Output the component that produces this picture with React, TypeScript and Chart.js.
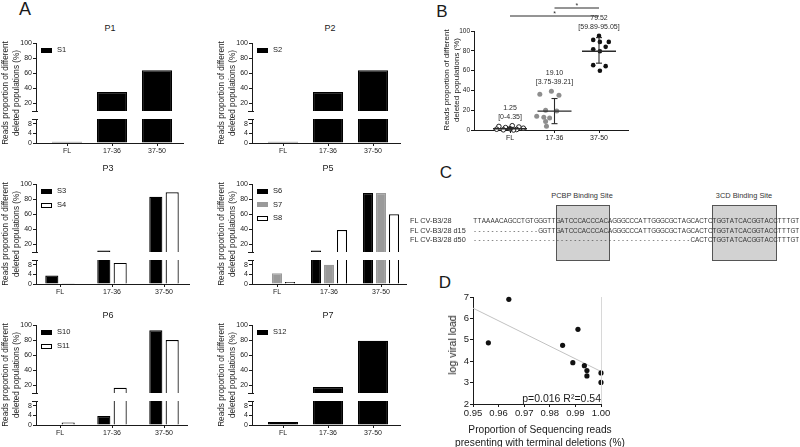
import React, { useEffect, useRef } from "react";
import { Chart, registerables } from "chart.js";

Chart.register(...registerables);

const FONT = "'Liberation Sans', Arial, Helvetica, sans-serif";
Chart.defaults.font.family = FONT;
Chart.defaults.color = "#222";

// ---------------- DATA ----------------
const CATEGORIES = ["FL", "17-36", "37-50"];

// Panel A: reads proportion (%) of deleted populations, per sample
const S1 = [0.5, 35, 64];
const S2 = [0.5, 35, 64];
const S3 = [3.5, 12, 83];
const S4 = [0.3, 8.8, 89];
const S6 = [0, 12, 88];
const S7 = [4.5, 8, 88];
const S8 = [0.8, 39, 60];
const S10 = [0, 3.7, 93];
const S11 = [1, 17, 80];
const S12 = [1.3, 18, 79];

const UPPER_TICKS = [20, 40, 60, 80, 100];
const LOWER_TICKS = [0, 4, 8];

// Panel B: individual samples per class (value, horizontal jitter in category units)
const B_FL = [4.35, 3.6, 3.0, 2.4, 1.8, 1.25, 0.8, 0.5, 0.2, 0];
const B_FL_JITTER = [0.05, -0.25, 0.2, -0.1, 0.3, 0.0, -0.3, 0.15, -0.15, 0.08];
const B_1736 = [39.21, 36, 35, 20, 19.1, 14, 13, 12, 8.5, 3.75];
const B_1736_JITTER = [-0.07, -0.33, 0.1, -0.2, 0.05, -0.4, -0.24, -0.11, -0.2, -0.18];
const B_3750 = [95.05, 91, 89, 89, 84, 81.5, 79.5, 65.5, 64.5, 59.89];
const B_3750_JITTER = [0, -0.13, 0.02, 0.22, 0.15, -0.13, 0.02, -0.13, 0.15, 0.02];
const B_MEDIAN = [1.25, 19.1, 79.52];
const B_ERR_LOW = [0.2, 6.4, 67.5];
const B_ERR_HIGH = [2.6, 31.8, 93.3];
const B_MEDIAN_LABELS = ["1.25", "19.10", "79.52"];
const B_RANGE_LABELS = ["[0-4.35]", "[3.75-39.21]", "[59.89-95.05]"];
const B_TICKS = [0, 20, 40, 60, 80, 100];

// Panel C: sequences
const SEQ_FL = "TTAAAACAGCCTGTGGGTTGATCCCACCCACAGGGCCCATTGGGCGCTAGCACTCTGGTATCACGGTACCTTTGT";
const SEQ_D15 = "---------------GGTTGATCCCACCCACAGGGCCCATTGGGCGCTAGCACTCTGGTATCACGGTACCTTTGT";
const SEQ_D50 = "--------------------------------------------------CACTCTGGTATCACGGTACCTTTGT";
const SEQ_LABELS = ["FL CV-B3/28", "FL CV-B3/28 d15", "FL CV-B3/28 d50"];

// Panel D
const D_X = [0.956, 0.964, 0.985, 0.991, 0.989, 0.9935, 0.9945, 0.9945, 1.0, 1.0];
const D_Y = [4.86, 6.89, 4.74, 5.49, 3.93, 3.79, 3.56, 3.31, 3.45, 3.01];
const D_FIT_X = [0.95, 1.0];
const D_FIT_Y = [6.48, 3.52];
const D_X_TICKS = [0.95, 0.96, 0.97, 0.98, 0.99, 1.0];
const D_Y_TICKS = [2, 3, 4, 5, 6, 7];

// ---------------- STYLE ----------------
const INK = "#1a1a1a";
const BLACK = "#000000";
const GRAY = "#9a9a9a";
const WHITE = "#ffffff";

type Series = { label: string; values: number[]; fill: string; stroke: string };
type Geo = {
  axisX: number; xEnd: number; c0: number; step: number; base: number;
  titleX: number; titleY: number; catPct: number; barPct: number; legendStep: number;
};

const PANELS: { title: string; series: Series[]; g: Geo }[] = [
  {
    title: "P1",
    series: [{ label: "S1", values: S1, fill: BLACK, stroke: BLACK }],
    g: { axisX: 36, xEnd: 183, c0: 67, step: 45, base: 43, titleX: 110, titleY: 28, catPct: 0.67, barPct: 1, legendStep: 14 },
  },
  {
    title: "P2",
    series: [{ label: "S2", values: S2, fill: BLACK, stroke: BLACK }],
    g: { axisX: 252, xEnd: 400, c0: 283, step: 45, base: 43, titleX: 330, titleY: 28, catPct: 0.67, barPct: 1, legendStep: 14 },
  },
  {
    title: "P3",
    series: [
      { label: "S3", values: S3, fill: BLACK, stroke: BLACK },
      { label: "S4", values: S4, fill: WHITE, stroke: BLACK },
    ],
    g: { axisX: 36, xEnd: 189, c0: 60, step: 52, base: 184, titleX: 108, titleY: 168, catPct: 0.63, barPct: 0.8, legendStep: 14 },
  },
  {
    title: "P5",
    series: [
      { label: "S6", values: S6, fill: BLACK, stroke: BLACK },
      { label: "S7", values: S7, fill: GRAY, stroke: GRAY },
      { label: "S8", values: S8, fill: WHITE, stroke: BLACK },
    ],
    g: { axisX: 252, xEnd: 406, c0: 277, step: 52, base: 184, titleX: 328, titleY: 168, catPct: 0.75, barPct: 0.78, legendStep: 13.5 },
  },
  {
    title: "P6",
    series: [
      { label: "S10", values: S10, fill: BLACK, stroke: BLACK },
      { label: "S11", values: S11, fill: WHITE, stroke: BLACK },
    ],
    g: { axisX: 36, xEnd: 187, c0: 60, step: 52, base: 325, titleX: 108, titleY: 315, catPct: 0.63, barPct: 0.8, legendStep: 14 },
  },
  {
    title: "P7",
    series: [{ label: "S12", values: S12, fill: BLACK, stroke: BLACK }],
    g: { axisX: 252, xEnd: 400, c0: 283, step: 45, base: 325, titleX: 328, titleY: 315, catPct: 0.67, barPct: 1, legendStep: 14 },
  },
];

// ---------------- HELPERS ----------------
function ChartBox(props: { left: number; top: number; width: number; height: number; make: () => any }) {
  const ref = useRef<HTMLCanvasElement | null>(null);
  useEffect(() => {
    if (!ref.current) return;
    const chart = new Chart(ref.current, props.make());
    return () => chart.destroy();
  }, []);
  return (
    <div style={{ position: "absolute", left: props.left, top: props.top, width: props.width, height: props.height }}>
      <canvas ref={ref} width={props.width} height={props.height} style={{ display: "block" }} />
    </div>
  );
}

function Label(props: { x: number; y: number; size: number; children: any; align?: "left" | "center" | "right"; color?: string }) {
  const a = props.align || "center";
  const tx = a === "center" ? "-50%" : a === "right" ? "-100%" : "0";
  return (
    <div
      style={{
        position: "absolute", left: props.x, top: props.y, transform: `translate(${tx}, -50%)`,
        fontSize: props.size, lineHeight: 1, whiteSpace: "nowrap", color: props.color || INK,
      }}
    >
      {props.children}
    </div>
  );
}

function VLabel(props: { x: number; y: number; size: number; lines: string[]; lh: number }) {
  return (
    <div
      style={{
        position: "absolute", left: props.x, top: props.y,
        transform: "translate(-50%, -50%) rotate(-90deg)",
        fontSize: props.size, lineHeight: `${props.lh}px`, textAlign: "center", whiteSpace: "nowrap", color: INK,
      }}
    >
      {props.lines.map((l) => (
        <div key={l}>{l}</div>
      ))}
    </div>
  );
}

const baseOpts = {
  responsive: false,
  maintainAspectRatio: false,
  animation: false as const,
  events: [] as any[],
  plugins: { legend: { display: false }, tooltip: { enabled: false }, title: { display: false } },
};

function tickAxis(min: number, max: number, ticks: number[], size: number, fit: (s: any) => void, label?: (v: number) => string) {
  return {
    type: "linear",
    min,
    max,
    offset: false,
    afterFit: fit,
    afterBuildTicks: (s: any) => {
      s.ticks = ticks.map((v) => ({ value: v }));
    },
    ticks: {
      font: { size, family: FONT },
      color: INK,
      padding: 1,
      autoSkip: false,
      maxRotation: 0,
      callback: label ? (v: any) => label(Number(v)) : (v: any) => String(v),
    },
    grid: { display: true, drawOnChartArea: false, drawTicks: true, tickLength: 3, color: INK, lineWidth: 1, offset: false },
    border: { display: true, color: INK, width: 1 },
  };
}

const breakMark = (where: "top" | "bottom") => ({
  id: "breakMark",
  afterDraw(chart: any) {
    const { ctx, chartArea } = chart;
    const y = Math.round(where === "top" ? chartArea.top : chartArea.bottom) + 0.5;
    ctx.save();
    ctx.strokeStyle = INK;
    ctx.lineWidth = 1;
    ctx.beginPath();
    ctx.moveTo(chartArea.left - 4, y);
    ctx.lineTo(chartArea.left + 2, y);
    ctx.stroke();
    ctx.restore();
  },
});

// ---------------- PANEL A ----------------
function BrokenBarPanel({ title, series, g }: { title: string; series: Series[]; g: Geo }) {
  const yW = 30;
  const pad = 6;
  const upperH = 68;
  const lowerTop = 76;
  const lowerH = 24;
  const xAxisH = 18;
  const left = g.axisX - yW;
  const width = g.xEnd - left + pad;
  const xMin = (g.axisX - g.c0) / g.step;
  const xMax = (g.xEnd - g.c0) / g.step;
  const bw = 1.2;

  const makeUpper = () => ({
    type: "bar",
    data: {
      datasets: series.map((s) => ({
        label: s.label,
        data: s.values.map((v, i) => ({ x: i, y: v > 10 ? v : null })),
        backgroundColor: s.fill,
        borderColor: s.stroke,
        borderWidth: { top: bw, left: bw, right: bw, bottom: 0 },
        borderSkipped: "start",
        categoryPercentage: g.catPct,
        barPercentage: g.barPct,
      })),
    },
    options: {
      ...baseOpts,
      layout: { padding: { top: pad, bottom: pad, left: 0, right: pad } },
      scales: {
        x: { type: "linear", min: xMin, max: xMax, offset: false, display: false },
        y: tickAxis(10, 100, UPPER_TICKS, 7, (s: any) => { s.width = yW; }),
      },
    },
    plugins: [breakMark("bottom")],
  });

  const makeLower = () => ({
    type: "bar",
    data: {
      datasets: series.map((s) => ({
        label: s.label,
        data: s.values.map((v, i) => ({ x: i, y: Math.min(v, 10) })),
        backgroundColor: s.fill,
        borderColor: s.stroke,
        borderWidth: (ctx: any) =>
          s.values[ctx.dataIndex] > 10
            ? { top: 0, left: bw, right: bw, bottom: 0 }
            : { top: bw, left: bw, right: bw, bottom: 0 },
        borderSkipped: "start",
        categoryPercentage: g.catPct,
        barPercentage: g.barPct,
      })),
    },
    options: {
      ...baseOpts,
      layout: { padding: { top: pad, bottom: 0, left: 0, right: pad } },
      scales: {
        x: {
          ...tickAxis(xMin, xMax, [0, 1, 2], 7, (s: any) => { s.height = xAxisH; }, (v) => CATEGORIES[v] ?? ""),
        },
        y: tickAxis(0, 10, LOWER_TICKS, 7, (s: any) => { s.width = yW; }),
      },
    },
    plugins: [breakMark("top")],
  });

  return (
    <>
      <ChartBox left={left} top={g.base - pad} width={width} height={pad + upperH + pad} make={makeUpper} />
      <ChartBox left={left} top={g.base + lowerTop - pad} width={width} height={pad + lowerH + xAxisH} make={makeLower} />
      <Label x={g.titleX} y={g.titleY} size={9}>{title}</Label>
      <VLabel
        x={g.axisX - 25}
        y={g.base + 50}
        size={8.2}
        lh={11}
        lines={["Reads proportion of different", "deleted populations (%)"]}
      />
      {series.map((s, i) => {
        const cy = g.base + 7 + i * g.legendStep;
        return (
          <React.Fragment key={s.label}>
            <div
              style={{
                position: "absolute", left: g.axisX + 5, top: cy - 2.5, width: 11, height: 5,
                background: s.fill, border: `1.2px solid ${s.stroke}`, boxSizing: "border-box",
              }}
            />
            <Label x={g.axisX + 21} y={cy} size={7.5} align="left">{s.label}</Label>
          </React.Fragment>
        );
      })}
    </>
  );
}

// ---------------- PANEL B ----------------
const B_GROUPS = [B_FL, B_1736, B_3750];

const bAnnotations = {
  id: "bAnnotations",
  afterDatasetsDraw(chart: any) {
    const { ctx, chartArea } = chart;
    const xs = chart.scales.x;
    const ys = chart.scales.y;
    ctx.save();
    ctx.strokeStyle = "#2a2a2a";
    ctx.fillStyle = "#2a2a2a";
    const seg = (x1: number, y1: number, x2: number, y2: number, w: number) => {
      ctx.lineWidth = w;
      ctx.beginPath();
      ctx.moveTo(x1, y1);
      ctx.lineTo(x2, y2);
      ctx.stroke();
    };
    B_MEDIAN.forEach((m, i) => {
      const x = xs.getPixelForValue(i);
      const ym = ys.getPixelForValue(m);
      seg(x - 17, ym, x + 17, ym, 1.4);
      const yl = ys.getPixelForValue(B_ERR_LOW[i]);
      const yh = ys.getPixelForValue(B_ERR_HIGH[i]);
      seg(x, yl, x, yh, 1.1);
      seg(x - 3, yl, x + 3, yl, 1.1);
      seg(x - 3, yh, x + 3, yh, 1.1);
      const top = ys.getPixelForValue(Math.max(...B_GROUPS[i]));
      ctx.font = `7px ${FONT}`;
      ctx.textAlign = "center";
      ctx.textBaseline = "middle";
      ctx.fillText(B_RANGE_LABELS[i], x, top - 9);
      ctx.fillText(B_MEDIAN_LABELS[i], x, top - 18);
    });
    // significance bars
    const x0 = xs.getPixelForValue(0);
    const x1 = xs.getPixelForValue(1);
    const x2 = xs.getPixelForValue(2);
    const yLow = chartArea.top - 15;
    const yHigh = chartArea.top - 23;
    seg(x0, yLow, x2, yLow, 1);
    seg(x1, yHigh, x2, yHigh, 1);
    ctx.font = `7px ${FONT}`;
    ctx.fillText("*", (x0 + x2) / 2, yLow - 2);
    ctx.fillText("*", (x1 + x2) / 2, yHigh - 2);
    ctx.restore();
  },
};

function PanelB() {
  const left = 430;
  const top = 0;
  const width = 210;
  const height = 160;
  const c0 = 510;
  const step = 44.5;
  const axisX = 474;
  const xEnd = 628;
  const make = () => ({
    type: "scatter",
    data: {
      datasets: [
        {
          data: B_FL.map((v, i) => ({ x: 0 + B_FL_JITTER[i], y: v })),
          pointRadius: 2.3, pointBackgroundColor: WHITE, pointBorderColor: "#222", pointBorderWidth: 1, clip: false,
        },
        {
          data: B_1736.map((v, i) => ({ x: 1 + B_1736_JITTER[i], y: v })),
          pointRadius: 2.5, pointBackgroundColor: "#8e8e8e", pointBorderColor: "#8e8e8e", pointBorderWidth: 0, clip: false,
        },
        {
          data: B_3750.map((v, i) => ({ x: 2 + B_3750_JITTER[i], y: v })),
          pointRadius: 2.3, pointBackgroundColor: "#111", pointBorderColor: "#111", pointBorderWidth: 0, clip: false,
        },
      ],
    },
    options: {
      ...baseOpts,
      layout: { padding: { top: 31, bottom: 8, left: 0, right: left + width - xEnd } },
      scales: {
        x: tickAxis((axisX - c0) / step, (xEnd - c0) / step, [0, 1, 2], 7, (s: any) => { s.height = 22; }, (v) => CATEGORIES[v] ?? ""),
        y: tickAxis(0, 100, B_TICKS, 6.5, (s: any) => { s.width = axisX - left; }),
      },
    },
    plugins: [bAnnotations],
  });
  return (
    <>
      <ChartBox left={left} top={top} width={width} height={height} make={make} />
      <VLabel x={450.5} y={80} size={8} lh={9.5} lines={["Reads proportion of different", "deleted populations (%)"]} />
    </>
  );
}

// ---------------- PANEL C ----------------
function SeqRow({ y, label, seq }: { y: number; label: string; seq: string }) {
  return (
    <>
      <Label x={410} y={y} size={7.3} align="left" color="#333">{label}</Label>
      {seq.split("").map((c, i) => (
        <span
          key={i}
          style={{
            position: "absolute", left: 473 + i * 4.35, top: y, width: 4.35, textAlign: "center",
            transform: "translateY(-50%)", fontSize: 6.3, lineHeight: 1, color: "#333",
          }}
        >
          {c}
        </span>
      ))}
    </>
  );
}

function PanelC() {
  const boxStyle = (l: number, w: number): React.CSSProperties => ({
    position: "absolute", left: l, top: 205, width: w, height: 56,
    background: "#d2d2d2", border: "1px solid #555", boxSizing: "border-box",
  });
  return (
    <>
      <div style={boxStyle(556, 54)} />
      <div style={boxStyle(712, 65)} />
      <Label x={582} y={196} size={7.4} color="#333">PCBP Binding Site</Label>
      <Label x={744} y={196} size={7.4} color="#333">3CD Binding Site</Label>
      <SeqRow y={221} label={SEQ_LABELS[0]} seq={SEQ_FL} />
      <SeqRow y={230.5} label={SEQ_LABELS[1]} seq={SEQ_D15} />
      <SeqRow y={240} label={SEQ_LABELS[2]} seq={SEQ_D50} />
    </>
  );
}

// ---------------- PANEL D ----------------
const dFrame = {
  id: "dFrame",
  afterDraw(chart: any) {
    const { ctx, chartArea } = chart;
    ctx.save();
    ctx.strokeStyle = "#d8d8d8";
    ctx.lineWidth = 1;
    ctx.beginPath();
    ctx.moveTo(Math.round(chartArea.right) + 0.5, chartArea.top);
    ctx.lineTo(Math.round(chartArea.right) + 0.5, chartArea.bottom);
    ctx.stroke();
    ctx.restore();
  },
};

function PanelD() {
  const left = 440;
  const top = 285;
  const width = 175;
  const height = 140;
  const make = () => ({
    type: "scatter",
    data: {
      datasets: [
        {
          type: "line",
          data: D_FIT_X.map((x, i) => ({ x, y: D_FIT_Y[i] })),
          borderColor: "#c2c2c2", borderWidth: 1, pointRadius: 0, order: 2,
        },
        {
          data: D_X.map((x, i) => ({ x, y: D_Y[i] })),
          pointRadius: 2.6, pointBackgroundColor: "#111", pointBorderColor: "#111", pointBorderWidth: 0, order: 1, clip: false,
        },
      ],
    },
    options: {
      ...baseOpts,
      layout: { padding: { top: 12, bottom: 0, left: 0, right: 14 } },
      scales: {
        x: tickAxis(0.95, 1.0, D_X_TICKS, 9.5, (s: any) => { s.height = 21; }, (v) => v.toFixed(2)),
        y: tickAxis(2, 7, D_Y_TICKS, 9.5, (s: any) => { s.width = 33; }),
      },
    },
    plugins: [dFrame],
  });
  return (
    <>
      <ChartBox left={left} top={top} width={width} height={height} make={make} />
      <Label x={601} y={398} size={10.5} align="right">p=0.016 R²=0.54</Label>
      <VLabel x={452} y={345} size={10.6} lh={12} lines={["log viral load"]} />
      <Label x={540} y={430} size={10.2}>Proportion of Sequencing reads</Label>
      <Label x={540} y={443} size={10.2}>presenting with terminal deletions (%)</Label>
    </>
  );
}

// ---------------- APP ----------------
export default function App() {
  useEffect(() => {
    document.body.style.margin = "0";
  }, []);
  return (
    <div
      style={{
        position: "absolute", left: 0, top: 0, width: 800, height: 447, background: "#fff",
        overflow: "hidden", fontFamily: FONT, color: INK,
      }}
    >
      <Label x={25} y={9} size={18}>A</Label>
      <Label x={442} y={11} size={17}>B</Label>
      <Label x={446} y={171.5} size={17}>C</Label>
      <Label x={445} y={281.5} size={17}>D</Label>
      {PANELS.map((p) => (
        <BrokenBarPanel key={p.title} title={p.title} series={p.series} g={p.g} />
      ))}
      <PanelB />
      <PanelC />
      <PanelD />
    </div>
  );
}
